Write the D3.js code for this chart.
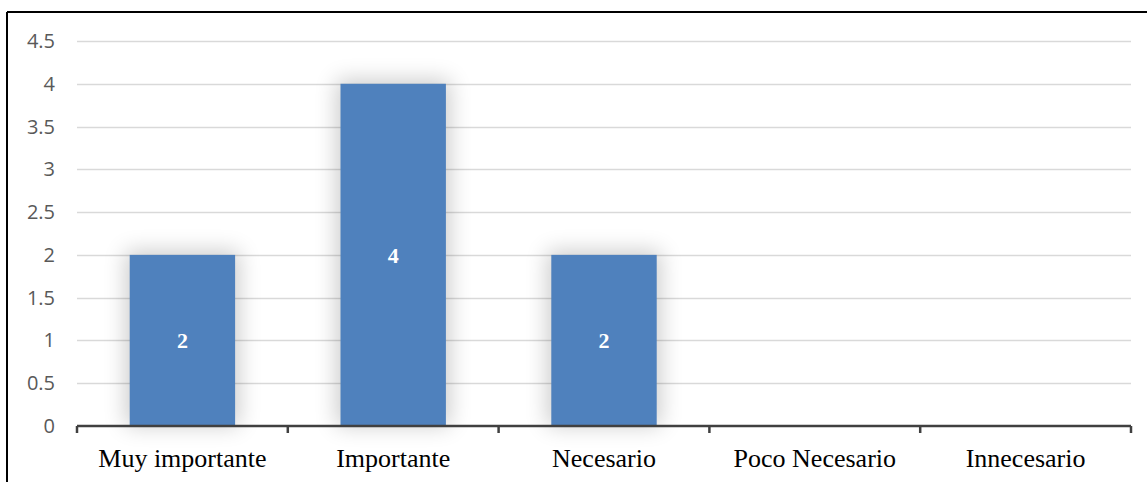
<!DOCTYPE html>
<html>
<head>
<meta charset="utf-8">
<script src="https://cdn.jsdelivr.net/npm/d3@7"></script>
<style>
  body { margin: 0; background: #fff; }
  svg { display: block; }
</style>
</head>
<body>
<div id="chart"></div>
<script>
var categories = ['Muy importante', 'Importante', 'Necesario', 'Poco Necesario', 'Innecesario'];
var values = [2, 4, 2, 0, 0];
var yTicks = [0, 0.5, 1, 1.5, 2, 2.5, 3, 3.5, 4, 4.5];

var W = 1147, H = 482;
var margin = { top: 41, right: 16, bottom: 56, left: 77 };
var width = W - margin.left - margin.right;
var height = H - margin.top - margin.bottom;

var svg = d3.select('#chart')
  .append('svg')
    .attr('width', W)
    .attr('height', H);

var defs = svg.append('defs');
var f = defs.append('filter')
  .attr('id', 'glow')
  .attr('x', '-50%').attr('y', '-50%')
  .attr('width', '200%').attr('height', '200%');
f.append('feGaussianBlur').attr('stdDeviation', 11);

// frame (top + left only)
svg.append('line')
  .attr('x1', 7).attr('x2', W).attr('y1', 12).attr('y2', 12)
  .attr('stroke', '#000').attr('stroke-width', 2);
svg.append('line')
  .attr('x1', 7).attr('x2', 7).attr('y1', 12).attr('y2', H)
  .attr('stroke', '#000').attr('stroke-width', 2);

var g = svg.append('g')
  .attr('transform', `translate(${margin.left}, ${margin.top})`);

var y = d3.scaleLinear().domain([0, 4.5]).range([height, 0]);
var x = d3.scaleBand().domain(categories).range([0, width]).paddingInner(0.5).paddingOuter(0.25);
var xb = d3.scaleBand().domain(categories).range([0, width]);

// gridlines
g.selectAll('.grid')
  .data(yTicks.filter(d => d > 0))
  .enter()
    .append('line')
    .attr('class', 'grid')
    .attr('x1', 0).attr('x2', width)
    .attr('y1', d => Math.round(y(d)) + 0.5).attr('y2', d => Math.round(y(d)) + 0.5)
    .attr('stroke', '#d9d9d9').attr('stroke-width', 1.3);

// y labels
g.selectAll('.ylab')
  .data(yTicks)
  .enter()
    .append('text')
    .attr('class', 'ylab')
    .attr('x', -22)
    .attr('y', d => y(d))
    .attr('dy', '0.35em')
    .attr('text-anchor', 'end')
    .style('font-family', 'Open Sans, Noto Sans, sans-serif')
    .style('font-size', '20px')
    .style('fill', '#595959')
    .text(d => d);

var data = categories.map((c, i) => ({ cat: c, val: values[i] }));

// soft shadow
g.selectAll('.shadow')
  .data(data.filter(d => d.val > 0))
  .enter()
    .append('rect')
    .attr('class', 'shadow')
    .attr('x', d => x(d.cat) - 4)
    .attr('y', d => y(d.val) - 4)
    .attr('width', x.bandwidth() + 8)
    .attr('height', d => height - y(d.val) + 4)
    .attr('fill', '#000')
    .attr('opacity', 0.2)
    .attr('filter', 'url(#glow)');

// bars
g.selectAll('.bar')
  .data(data.filter(d => d.val > 0))
  .enter()
    .append('rect')
    .attr('class', 'bar')
    .attr('x', d => x(d.cat))
    .attr('y', d => y(d.val))
    .attr('width', x.bandwidth())
    .attr('height', d => height - y(d.val))
    .attr('fill', '#4f81bd');

// value labels
g.selectAll('.vlab')
  .data(data.filter(d => d.val > 0))
  .enter()
    .append('text')
    .attr('class', 'vlab')
    .attr('x', d => x(d.cat) + x.bandwidth() / 2)
    .attr('y', d => y(d.val / 2))
    .attr('dy', '0.35em')
    .attr('text-anchor', 'middle')
    .style('font-family', '"Liberation Serif", "Times New Roman", serif')
    .style('font-size', '22px')
    .style('font-weight', 'bold')
    .style('fill', '#fff')
    .text(d => d.val);

// x axis
var axis = g.append('g')
  .attr('transform', `translate(0, ${height})`);
axis.append('line')
  .attr('x1', 0).attr('x2', width).attr('y1', 0).attr('y2', 0)
  .attr('stroke', '#404040').attr('stroke-width', 2.5);
var bounds = categories.map(c => xb(c)).concat([width]);
axis.selectAll('.tick')
  .data(bounds)
  .enter()
    .append('line')
    .attr('x1', d => d).attr('x2', d => d)
    .attr('y1', 0).attr('y2', 7)
    .attr('stroke', '#404040').attr('stroke-width', 2.5);
axis.selectAll('.xlab')
  .data(categories)
  .enter()
    .append('text')
    .attr('x', d => xb(d) + xb.bandwidth() / 2)
    .attr('y', 32)
    .attr('dy', '0.35em')
    .attr('text-anchor', 'middle')
    .style('font-family', '"Liberation Serif", "Times New Roman", serif')
    .style('font-size', '26px')
    .style('fill', '#000')
    .text(d => d);
</script>
</body>
</html>
